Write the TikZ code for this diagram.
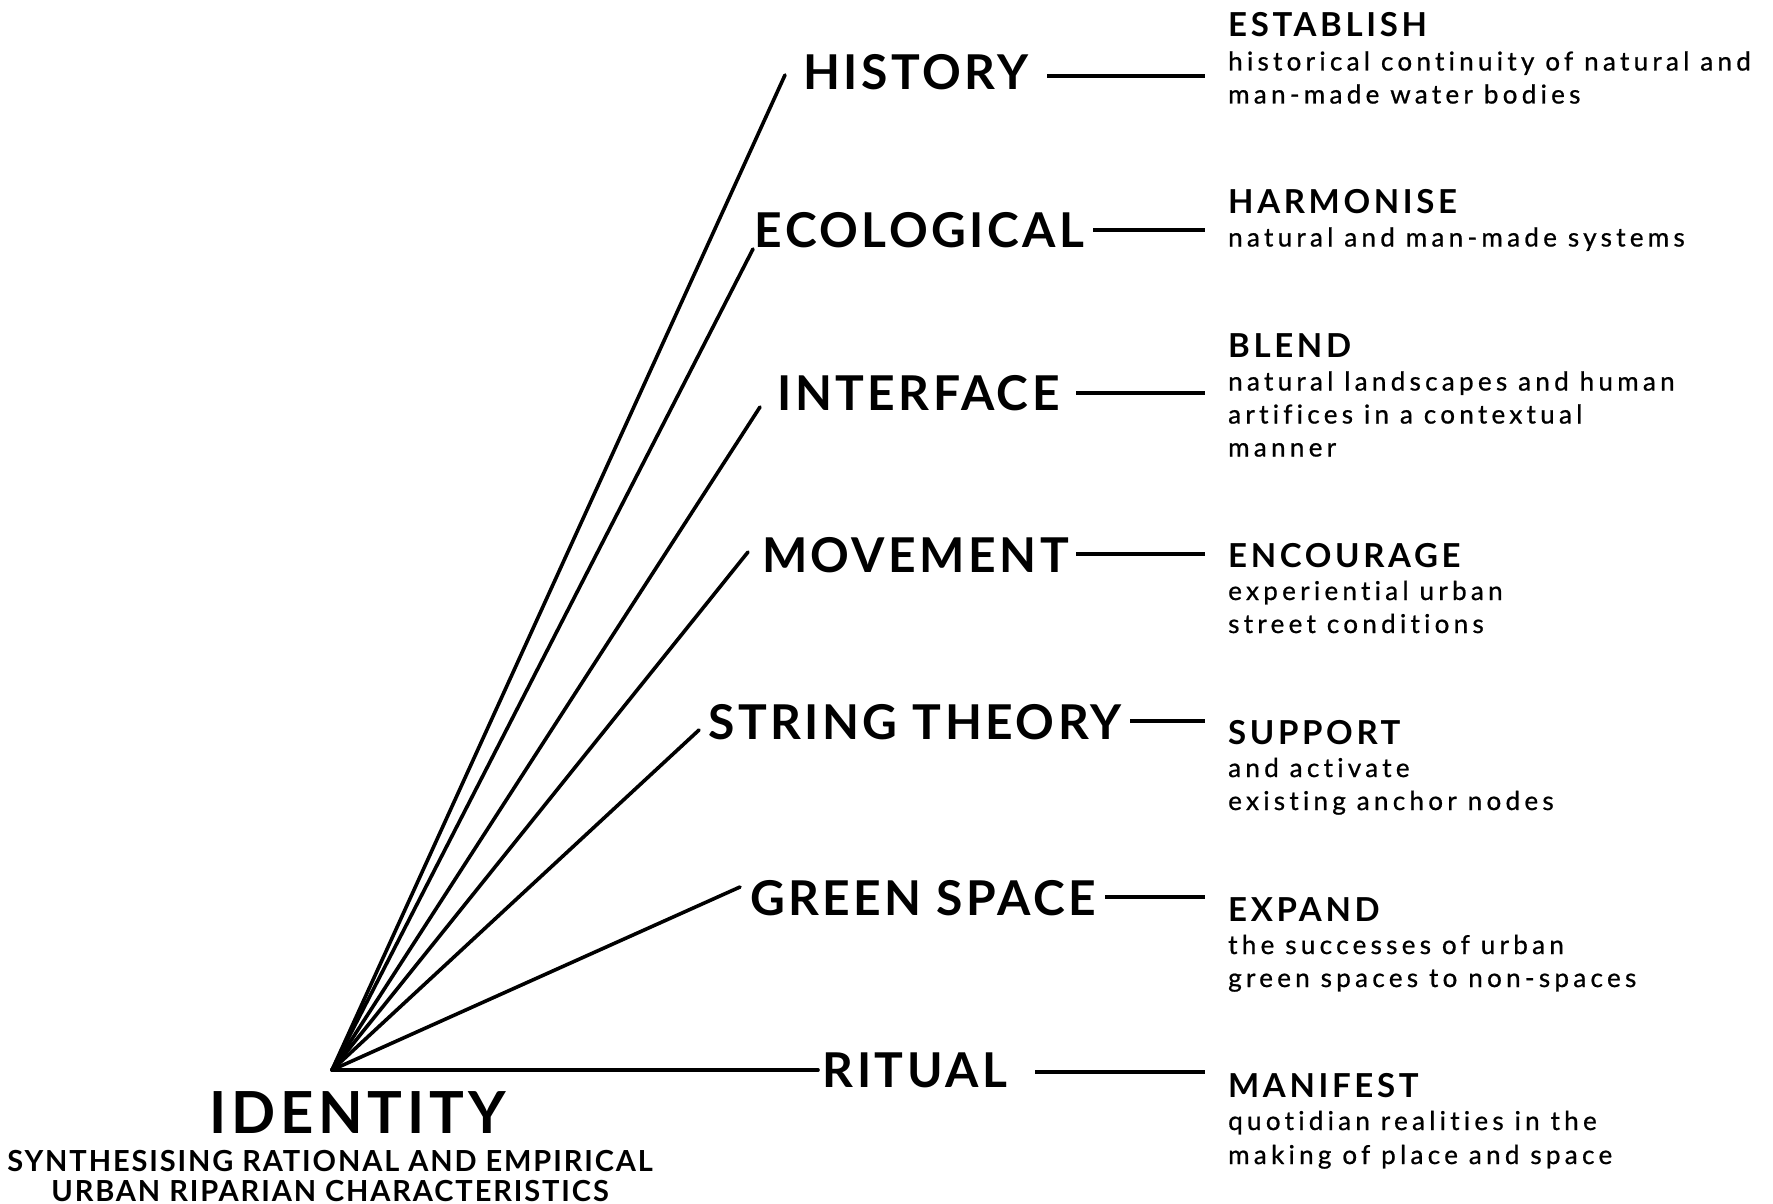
\documentclass[tikz,border=0pt]{standalone}
\usepackage{fontspec}
\setmainfont{Lato}
\defaultfontfeatures{Ligatures={NoCommon,NoRare,NoContextual}}
\newfontfamily\labfont[LetterSpace=7.2,Ligatures={NoCommon,NoRare,NoContextual}]{Lato}
\newfontfamily\headfont[LetterSpace=11,Ligatures={NoCommon,NoRare,NoContextual}]{Lato}
\newfontfamily\idfont[LetterSpace=8,Ligatures={NoCommon,NoRare,NoContextual}]{Lato}
\newfontfamily\synfont[LetterSpace=6.5,Ligatures={NoCommon,NoRare,NoContextual}]{Lato}
\newfontfamily\descfont[LetterSpace=16.5,FakeBold=0.8,Ligatures={NoCommon,NoRare,NoContextual}]{Lato}
\begin{document}
\begin{tikzpicture}[x=1pt,y=-1pt,
  lab/.style={anchor=base,inner sep=0pt,font=\labfont\bfseries\fontsize{48}{48}\selectfont},
  rhead/.style={anchor=base west,inner sep=0pt,font=\headfont\bfseries\fontsize{33}{33}\selectfont},
  rdesc/.style={anchor=base west,inner sep=0pt,font=\descfont\fontsize{26}{26}\selectfont},
  syn/.style={anchor=base,inner sep=0pt,text depth=0pt,font=\synfont\bfseries\fontsize{29}{29}\selectfont},
  spoke/.style={line width=3.6pt,line cap=round},
  tie/.style={line width=4.4pt}]
\useasboundingbox (0,0) rectangle (1773,1204);
% hub
\coordinate (hub) at (332,1070);
% left labels
\node[lab] (hist) at (916,90) {HISTORY};
\node[lab] (eco) at (919.5,247) {ECOLOGICAL};
\node[lab] (intf) at (918.5,410) {INTERFACE};
\node[lab] (mov) at (915.5,572) {MOVEMENT};
\node[lab] (str) at (915,739) {STRING THEORY};
\node[lab] (grn) at (923,915) {GREEN SPACE};
\node[lab] (rit) at (915,1087) {RITUAL};
% spoke ends
\coordinate (e1) at (785,75);
\coordinate (e2) at (753,249);
\coordinate (e3) at (760,407);
\coordinate (e4) at (748,552);
\coordinate (e5) at (699,730);
\coordinate (e6) at (740,887);
\coordinate (e7) at (818,1070);
\foreach \e in {e1,e2,e3,e4,e5,e6,e7} \draw[spoke] (hub) -- (\e);
% right ties
\coordinate (t1a) at (1047,76);  \coordinate (t1b) at (1205,76);
\coordinate (t2a) at (1093,230); \coordinate (t2b) at (1205,230);
\coordinate (t3a) at (1076,393); \coordinate (t3b) at (1205,393);
\coordinate (t4a) at (1076,554); \coordinate (t4b) at (1205,554);
\coordinate (t5a) at (1130,721); \coordinate (t5b) at (1205,721);
\coordinate (t6a) at (1105,897); \coordinate (t6b) at (1205,897);
\coordinate (t7a) at (1035,1072); \coordinate (t7b) at (1205,1072);
\foreach \i in {1,...,7} \draw[tie] (t\i a) -- (t\i b);
% identity
\node[anchor=base,inner sep=0pt,font=\idfont\bfseries\fontsize{58}{58}\selectfont] (idt) at (358,1133) {IDENTITY};
\node[syn] (syn1) at (330,1171) {SYNTHESISING RATIONAL AND EMPIRICAL};
\node[syn] (syn2) at (330,1201) {URBAN RIPARIAN CHARACTERISTICS};
% right descriptions
\node[rhead] (h1) at (1228,37) {ESTABLISH};
\node[rdesc] (d1a) at (1228,70.5) {historical continuity of natural and};
\node[rdesc] (d1b) at (1228,103.5) {man-made water bodies};
\node[rhead] (h2) at (1228,213) {HARMONISE};
\node[rdesc] (d2a) at (1228,246.5) {natural and man-made systems};
\node[rhead] (h3) at (1228,357) {BLEND};
\node[rdesc] (d3a) at (1228,390.5) {natural landscapes and human};
\node[rdesc] (d3b) at (1228,423.5) {artifices in a contextual};
\node[rdesc] (d3c) at (1228,456.5) {manner};
\node[rhead] (h4) at (1228,567) {ENCOURAGE};
\node[rdesc] (d4a) at (1228,600) {experiential urban};
\node[rdesc] (d4b) at (1228,633) {street conditions};
\node[rhead] (h5) at (1228,744) {SUPPORT};
\node[rdesc] (d5a) at (1228,777) {and activate};
\node[rdesc] (d5b) at (1228,810) {existing anchor nodes};
\node[rhead] (h6) at (1228,921) {EXPAND};
\node[rdesc] (d6a) at (1228,954) {the successes of urban};
\node[rdesc] (d6b) at (1228,987) {green spaces to non-spaces};
\node[rhead] (h7) at (1228,1097) {MANIFEST};
\node[rdesc] (d7a) at (1228,1130) {quotidian realities in the};
\node[rdesc] (d7b) at (1228,1164) {making of place and space};
\end{tikzpicture}
\end{document}
